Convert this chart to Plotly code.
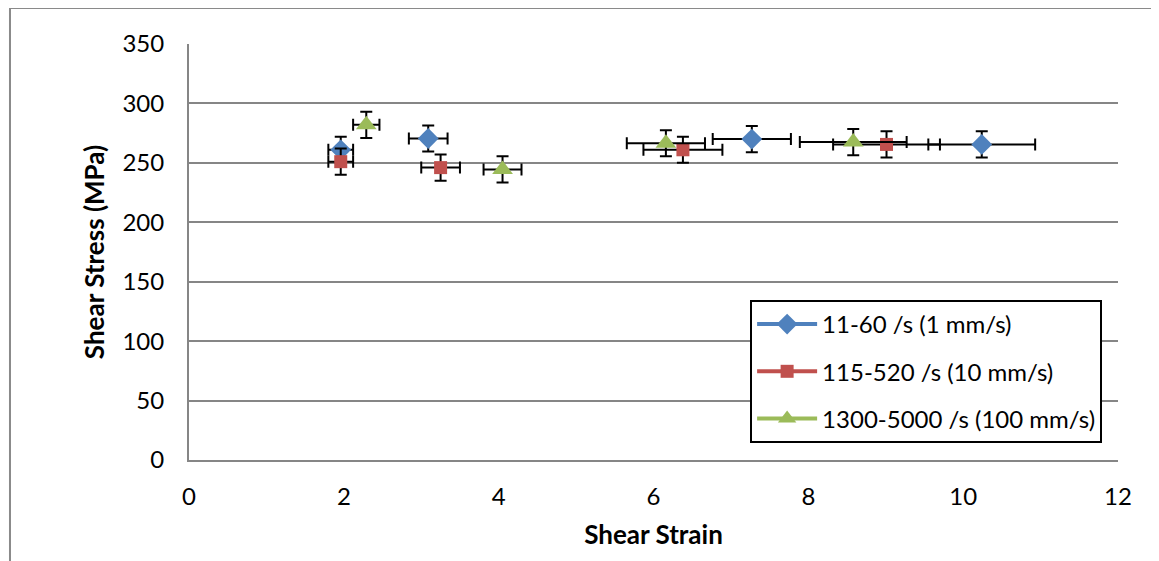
import plotly.graph_objects as go

# Data
series_names = ["11-60 /s (1 mm/s)", "115-520 /s (10 mm/s)", "1300-5000 /s (100 mm/s)"]
colors = ["#4F81BD", "#C0504D", "#9BBB59"]
symbols = ["diamond", "square", "triangle-up"]
marker_sizes = [16, 13, 18]

blue_x = [1.96, 3.09, 7.27, 10.24]
blue_y = [261, 270.5, 270, 265.5]
blue_xerr = [0.16, 0.25, 0.505, 0.69]
blue_yerr = [11, 11, 11, 11]

red_x = [1.96, 3.25, 6.38, 9.01]
red_y = [251, 246, 261, 265.5]
red_xerr = [0.16, 0.25, 0.51, 0.69]
red_yerr = [11, 11, 11, 11]

green_x = [2.29, 4.05, 6.16, 8.58]
green_y = [282, 244.5, 266.5, 267.5]
green_xerr = [0.17, 0.245, 0.505, 0.69]
green_yerr = [11, 11, 11, 11]

xs = [blue_x, red_x, green_x]
ys = [blue_y, red_y, green_y]
xerrs = [blue_xerr, red_xerr, green_xerr]
yerrs = [blue_yerr, red_yerr, green_yerr]

FONT = "Lato"
fig = go.Figure()

for i in range(3):
    fig.add_trace(go.Scatter(
        x=xs[i], y=ys[i], mode="markers", showlegend=False,
        marker=dict(symbol=symbols[i], size=marker_sizes[i], color=colors[i]),
        error_x=dict(type="data", array=xerrs[i], color="black", thickness=2, width=6),
        error_y=dict(type="data", array=yerrs[i], color="black", thickness=2, width=6),
    ))

for i in range(3):
    fig.add_trace(go.Scatter(
        x=[None], y=[None], mode="lines+markers", name=series_names[i],
        line=dict(color=colors[i], width=4),
        marker=dict(symbol=symbols[i], size=marker_sizes[i], color=colors[i]),
        legendgroup=str(i),
    ))

fig.update_layout(
    width=1151, height=553,
    margin=dict(l=181, r=41, t=36, b=101),
    paper_bgcolor="white", plot_bgcolor="white",
    font=dict(family=FONT, size=24, color="black"),
    showlegend=True,
    legend=dict(
        x=0.604, y=0.3846, xanchor="left", yanchor="top",
        bordercolor="black", borderwidth=2, bgcolor="white",
        font=dict(family=FONT, size=24, color="black"),
        traceorder="grouped", tracegroupgap=13,
        itemwidth=60,
    ),
    xaxis=dict(
        range=[0, 12], dtick=2, tick0=0,
        showgrid=False, zeroline=False,
        showline=True, linecolor="#868686", linewidth=2,
        ticks="", ticklabelstandoff=14,
        title=dict(text="<b>Shear Strain</b>", font=dict(family=FONT, size=26), standoff=17),
    ),
    yaxis=dict(
        range=[0, 350], dtick=50, tick0=0,
        showgrid=True, gridcolor="#868686", gridwidth=1.5,
        zeroline=False,
        showline=True, linecolor="#868686", linewidth=2,
        ticks="", ticklabelstandoff=18,
        title=dict(text="<b>Shear Stress (MPa)</b>", font=dict(family=FONT, size=26), standoff=10),
    ),
    shapes=[dict(
        type="rect", xref="paper", yref="paper",
        x0=-0.1927, x1=1.2, y0=-0.5, y1=1.0865,
        line=dict(color="#8a8a8a", width=2), layer="below",
    )],
)

fig.write_html("out.html")
